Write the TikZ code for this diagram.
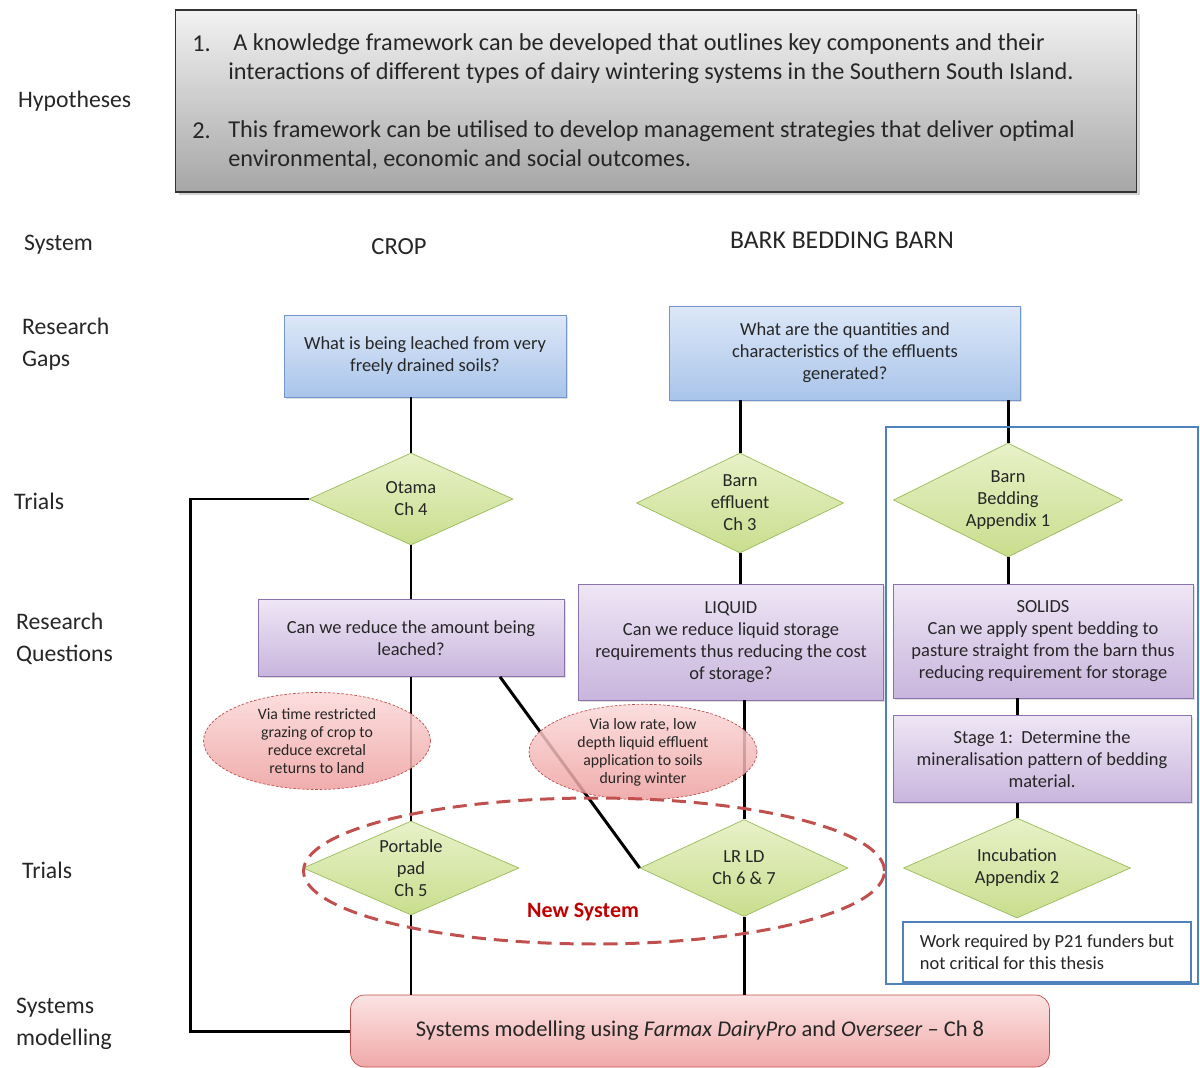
\documentclass[tikz,border=0pt]{standalone}
\usepackage{fontspec}
\setmainfont{Carlito}
\usetikzlibrary{shapes.geometric,shadows}

\definecolor{inktext}{HTML}{262626}
\definecolor{hyptop}{HTML}{F2F2F2}
\definecolor{hypbot}{HTML}{A6A6A6}
\definecolor{gaptop}{HTML}{DDE8F8}
\definecolor{gapbot}{HTML}{A9C4EA}
\definecolor{gapedge}{HTML}{7396CC}
\definecolor{qtop}{HTML}{EEE6F5}
\definecolor{qbot}{HTML}{C9B5DD}
\definecolor{qedge}{HTML}{8A72AA}
\definecolor{trialtop}{HTML}{E8F1C8}
\definecolor{trialbot}{HTML}{C9DE8E}
\definecolor{trialedge}{HTML}{9BBB59}
\definecolor{viatop}{HTML}{FBD8D8}
\definecolor{viabot}{HTML}{EE9F9F}
\definecolor{redline}{HTML}{C0504D}
\definecolor{newred}{HTML}{C00000}
\definecolor{frameblue}{HTML}{4F81BD}

\begin{document}
\begin{tikzpicture}[x = 0.02cm, y = -0.02cm, text = inktext]
	% Styles for the boxes, diamonds and links
	\tikzset{
		rowlabel/.style = {anchor = west, align = left, font = \fontsize{13.5}{18}\selectfont},
		hypline/.style = {anchor = west, font = \fontsize{13.8}{16}\selectfont, inner sep = 0pt},
		gapbox/.style = {draw = gapedge, top color = gaptop, bottom color = gapbot, align = center,
			font = \fontsize{10.5}{12.5}\selectfont, inner sep = 0pt,
			drop shadow = {opacity = 0.25, shadow xshift = 1pt, shadow yshift = -1pt}},
		qbox/.style = {draw = qedge, top color = qtop, bottom color = qbot, align = center,
			font = \fontsize{10.5}{12.5}\selectfont, inner sep = 0pt,
			drop shadow = {opacity = 0.25, shadow xshift = 1pt, shadow yshift = -1pt}},
		trial/.style = {diamond, aspect = 2, draw = trialedge, top color = trialtop, bottom color = trialbot,
			align = center, font = \fontsize{10.5}{12.5}\selectfont, inner sep = 0pt},
		via/.style = {ellipse, draw = redline, dash pattern = on 1.5pt off 1pt, top color = viatop,
			bottom color = viabot, fill opacity = 0.85, text opacity = 1, align = center,
			font = \fontsize{9}{10.2}\selectfont, inner sep = 0pt},
		link/.style = {line width = 1.7pt, black}
	}

	\useasboundingbox (0, 0) rectangle (1200, 1068);

	% Row labels on the left
	\node[rowlabel] (lhyp) at (12, 101) {Hypotheses};
	\node[rowlabel] (lsys) at (18, 245) {System};
	\node[rowlabel] (lgaps) at (16, 344) {Research\\Gaps};
	\node[rowlabel] (ltrials) at (8, 501) {Trials};
	\node[rowlabel] (lquest) at (10, 639) {Research\\Questions};
	\node[rowlabel] (ltrialsb) at (16, 870) {Trials};
	\node[rowlabel] (lmodel) at (10, 1024) {Systems\\modelling};

	% Hypotheses box
	\node[draw = black!80, line width = 0.8pt, top color = hyptop, bottom color = hypbot,
		minimum width = 19.22cm, minimum height = 3.64cm,
		drop shadow = {opacity = 0.35, shadow xshift = 2pt, shadow yshift = -2pt}] (hyp) at (656, 101) {};
	\node[hypline] (hnum1) at (192, 44) {1.};
	\node[hypline] (hyp1a) at (233, 44) {A knowledge framework can be developed that outlines key components and their};
	\node[hypline] (hyp1b) at (228, 73) {interactions of different types of dairy wintering systems in the Southern South Island.};
	\node[hypline] (hnum2) at (192, 131) {2.};
	\node[hypline] (hyp2a) at (228, 131) {This framework can be utilised to develop management strategies that deliver optimal};
	\node[hypline] (hyp2b) at (228, 160) {environmental, economic and social outcomes.};

	% System headings
	\node[font = \fontsize{14}{16}\selectfont] (crop) at (399, 247) {CROP};
	\node[font = \fontsize{14.6}{16}\selectfont] (barn) at (842, 240) {BARK BEDDING BARN};

	% Research gaps
	\node[gapbox, minimum width = 5.64cm, minimum height = 1.64cm] (gap1) at (425, 356)
		{What is being leached from very\\freely drained soils?};
	\node[gapbox, minimum width = 7.02cm, minimum height = 1.88cm] (gap2) at (845, 353)
		{What are the quantities and\\characteristics of the effluents\\generated?};

	% Trials
	\node[trial, minimum width = 4.08cm, minimum height = 1.84cm] (otama) at (411, 499) {Otama\\Ch 4};
	\node[trial, minimum width = 4.14cm, minimum height = 2.0cm] (barneff) at (740, 503) {Barn\\effluent\\Ch 3};
	\node[trial, minimum width = 4.58cm, minimum height = 2.28cm] (barnbed) at (1008, 500) {Barn\\Bedding\\Appendix 1};

	% Research questions
	\node[qbox, minimum width = 6.12cm, minimum height = 1.54cm] (rq1) at (411, 638)
		{Can we reduce the amount being\\leached?};
	\node[qbox, minimum width = 6.1cm, minimum height = 2.32cm] (rq2) at (731, 642)
		{LIQUID\\Can we reduce liquid storage\\requirements thus reducing the cost\\of storage?};
	\node[qbox, minimum width = 6.0cm, minimum height = 2.28cm] (rq3) at (1043, 641)
		{SOLIDS\\Can we apply spent bedding to\\pasture straight from the barn thus\\reducing requirement for storage};
	\node[qbox, minimum width = 5.96cm, minimum height = 1.74cm] (stage1) at (1042, 759)
		{Stage 1:\ \ Determine the\\mineralisation pattern of bedding\\material.};

	% Second row of trials
	\node[trial, minimum width = 4.32cm, minimum height = 1.88cm] (portable) at (411, 868) {Portable\\pad\\Ch 5};
	\node[trial, minimum width = 4.16cm, minimum height = 1.94cm] (lrld) at (744, 868) {LR LD\\Ch 6 \& 7};
	\node[trial, minimum width = 4.54cm, minimum height = 2.0cm] (incub) at (1017, 868) {Incubation\\Appendix 2};

	% Systems modelling box
	\node[draw = redline, rounded corners = 8pt, top color = viatop!70, bottom color = viabot!90,
		minimum width = 13.98cm, minimum height = 1.44cm, font = \fontsize{12.8}{14}\selectfont] (sysmod) at (700, 1031)
		{Systems modelling using \textit{Farmax DairyPro} and \textit{Overseer} -- Ch 8};

	% Draw the links
	\draw[link] (gap1.south -| otama.north) -- (otama.north);
	\draw[link] (otama.south) -- (rq1.north -| otama.south);
	\draw[link] (rq1.south) -- (portable.north);
	\draw[link] (portable.south) -- (sysmod.north -| portable.south);
	\draw[link] (gap2.south -| barneff.north) -- (barneff.north);
	\draw[link] (barneff.south) -- (rq2.north -| barneff.south);
	\draw[link] (rq2.south -| lrld.north) -- (lrld.north);
	\draw[link] (lrld.south) -- (sysmod.north -| lrld.south);
	\draw[link] (gap2.south -| barnbed.north) -- (barnbed.north);
	\draw[link] (barnbed.south) -- (rq3.north -| barnbed.south);
	\draw[link] (rq3.south -| incub.north) -- (stage1.north -| incub.north);
	\draw[link] (stage1.south -| incub.north) -- (incub.north);
	\draw[link] ([xshift = 1.78cm]rq1.south) -- (lrld.west);
	\draw[link] (otama.west) -- ++(-118, 0) |- (sysmod.west);

	% Pathway ellipses
	\node[via, minimum width = 4.54cm, minimum height = 1.94cm] (via1) at (317, 741)
		{Via time restricted\\grazing of crop to\\reduce excretal\\returns to land};
	\node[via, minimum width = 4.56cm, minimum height = 1.8cm] (via2) at (643, 752)
		{Via low rate, low\\depth liquid effluent\\application to soils\\during winter};

	% New system outline
	\node[ellipse, draw = redline, line width = 1.7pt, dash pattern = on 8pt off 4.5pt,
		minimum width = 11.62cm, minimum height = 2.92cm] (newsys) at (594, 871) {};
	\node[text = newred, font = \bfseries\fontsize{12.5}{14}\selectfont] (newlabel) at (583, 912) {New System};

	% Work outside the thesis
	\draw[frameblue, line width = 1.6pt] (886, 427) rectangle (1198, 984);
	\node[draw = frameblue, line width = 1.2pt, fill = white, align = left, inner sep = 0pt,
		minimum width = 5.76cm, minimum height = 1.2cm, font = \fontsize{10.5}{12.5}\selectfont] (note) at (1047, 952)
		{Work required by P21 funders but\\not critical for this thesis};
\end{tikzpicture}
\end{document}
